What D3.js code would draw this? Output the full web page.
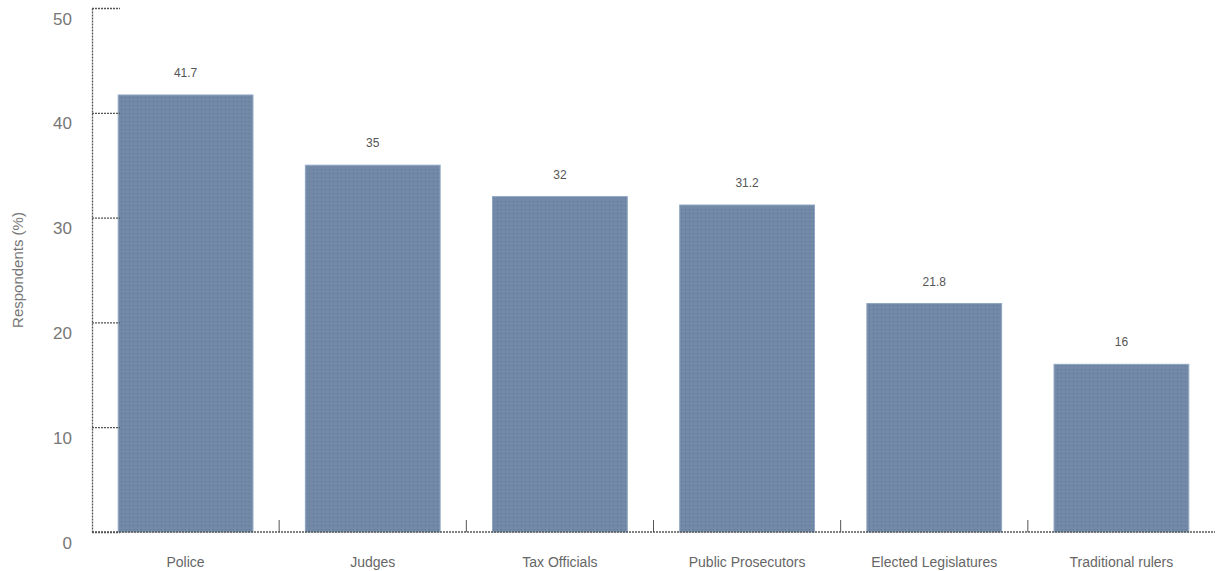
<!DOCTYPE html>
<html>
<head>
<meta charset="utf-8">
<script src="https://cdn.jsdelivr.net/npm/d3@7"></script>
<style>
  body { margin: 0; background: #fff; }
  text { font-family: "Liberation Sans", Arial, sans-serif; }
</style>
</head>
<body>
<script>
var categories = ["Police", "Judges", "Tax Officials", "Public Prosecutors", "Elected Legislatures", "Traditional rulers"];
var values = [41.7, 35, 32, 31.2, 21.8, 16];
var valueLabels = ["41.7", "35", "32", "31.2", "21.8", "16"];
var yTicks = [0, 10, 20, 30, 40, 50];

var width = 1217, height = 571;
var mLeft = 92, mRight = 1215, mTop = 8, mBottom = 532;

var svg = d3.select("body").append("svg")
    .attr("width", width)
    .attr("height", height);

// dotted fill like the original
var defs = svg.append("defs");
var pat = defs.append("pattern")
    .attr("id", "dots")
    .attr("width", 4).attr("height", 4)
    .attr("patternUnits", "userSpaceOnUse");
pat.append("rect").attr("width", 4).attr("height", 4).attr("fill", "#7489a6");
pat.append("rect").attr("x", 1).attr("y", 1).attr("width", 1).attr("height", 1).attr("fill", "#4f77a8");

var x = d3.scaleBand()
    .domain(categories)
    .range([mLeft, mRight])
    .paddingInner(0.28)
    .paddingOuter(0.14);

var y = d3.scaleLinear()
    .domain([0, 50])
    .range([mBottom, mTop]);

// bars
svg.append("g").selectAll("rect")
    .data(values)
    .enter().append("rect")
    .attr("x", function(d, i) { return x(categories[i]); })
    .attr("y", function(d) { return y(d); })
    .attr("width", x.bandwidth())
    .attr("height", function(d) { return y(0) - y(d); })
    .attr("fill", "url(#dots)")
    .attr("stroke", "#8fa6c2")
    .attr("stroke-width", 1);

// value labels
svg.append("g").selectAll("text")
    .data(values)
    .enter().append("text")
    .attr("x", function(d, i) { return x(categories[i]) + x.bandwidth() / 2; })
    .attr("y", function(d) { return y(d) - 18; })
    .attr("text-anchor", "middle")
    .attr("font-size", 12)
    .attr("fill", "#555")
    .text(function(d, i) { return valueLabels[i]; });

// y axis, ticks pointing inward
var yAxis = svg.append("g")
    .attr("transform", "translate(" + mLeft + ",0)")
    .call(d3.axisLeft(y).tickValues(yTicks).tickSize(-28).tickSizeOuter(0));
yAxis.select(".domain").attr("stroke", "#555").attr("stroke-width", 1.3).attr("stroke-dasharray", "2,1");
yAxis.selectAll(".tick line").attr("stroke", "#555").attr("stroke-width", 1.3).attr("stroke-dasharray", "2,1");
yAxis.selectAll(".tick text")
    .attr("font-size", 17)
    .attr("fill", "#777")
    .attr("x", -20)
    .attr("dy", "0.95em")
    .attr("text-anchor", "end");

// x axis line with ticks between bands
var xg = svg.append("g");
xg.append("line")
    .attr("x1", mLeft).attr("x2", mRight)
    .attr("y1", mBottom).attr("y2", mBottom)
    .attr("stroke", "#555")
    .attr("stroke-width", 1.3)
    .attr("stroke-dasharray", "2,1");
xg.selectAll(".sep")
    .data(categories.slice(1))
    .enter().append("line")
    .attr("class", "sep")
    .attr("x1", function(d) { return x(d) - x.step() * x.paddingInner() / 2; })
    .attr("x2", function(d) { return x(d) - x.step() * x.paddingInner() / 2; })
    .attr("y1", mBottom).attr("y2", mBottom - 12)
    .attr("stroke", "#555");
xg.selectAll(".lab")
    .data(categories)
    .enter().append("text")
    .attr("class", "lab")
    .attr("x", function(d) { return x(d) + x.bandwidth() / 2; })
    .attr("y", 567)
    .attr("text-anchor", "middle")
    .attr("font-size", 14)
    .attr("fill", "#666")
    .text(function(d) { return d; });

// y axis title
svg.append("text")
    .attr("transform", "translate(23," + ((mTop + mBottom) / 2) + ") rotate(-90)")
    .attr("text-anchor", "middle")
    .attr("font-size", 15)
    .attr("fill", "#777")
    .text("Respondents (%)");
</script>
</body>
</html>
